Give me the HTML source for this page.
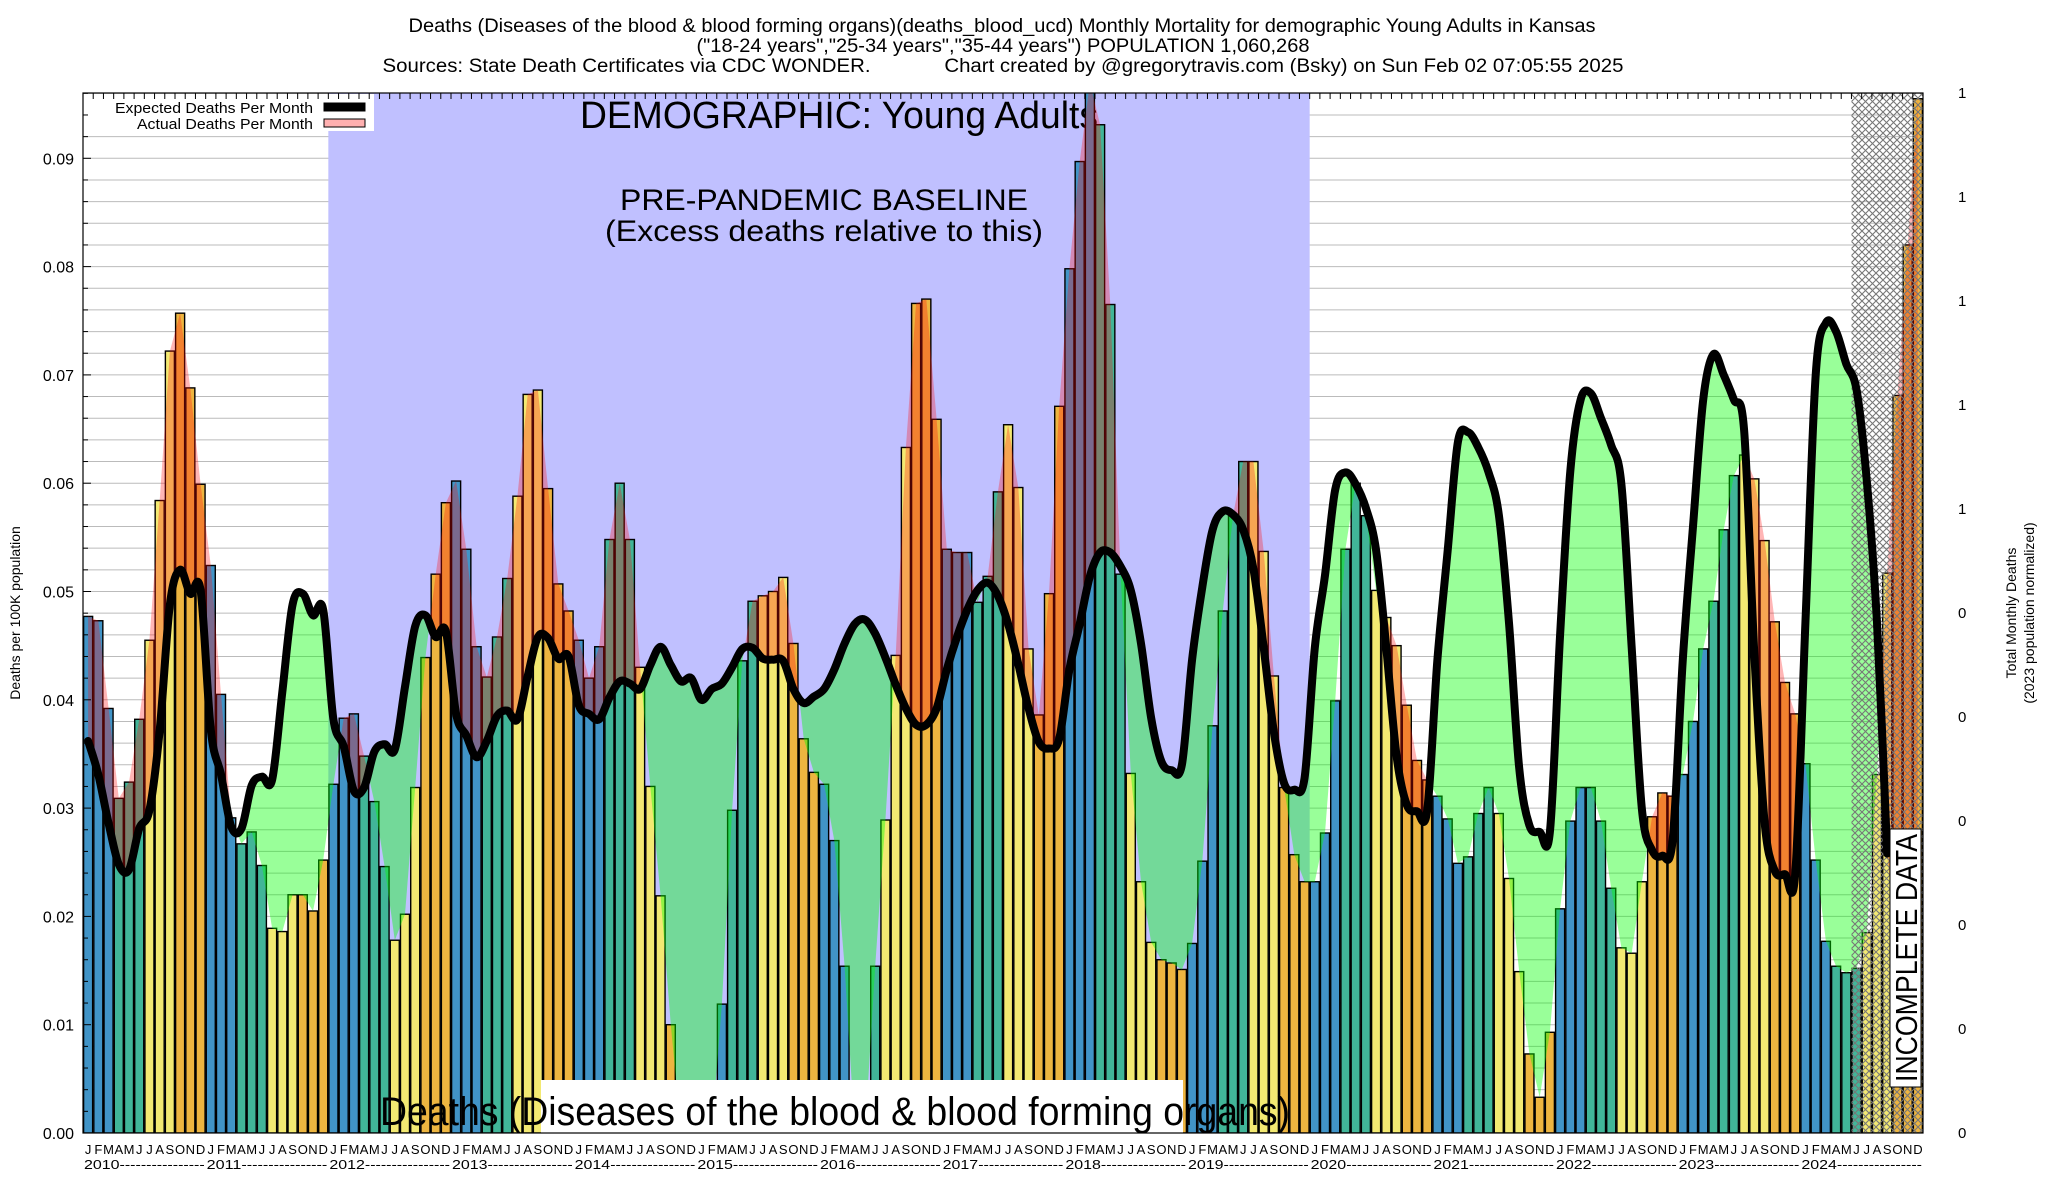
<!DOCTYPE html>
<html><head><meta charset="utf-8"><title>Monthly Mortality chart</title>
<style>
html,body{margin:0;padding:0;background:#fff;}
svg{display:block;font-family:"Liberation Sans",Arial,sans-serif;}
</style></head>
<body>
<svg id="chart" width="2048" height="1200" viewBox="0 0 2048 1200" xmlns="http://www.w3.org/2000/svg">
<defs>
  <pattern id="hatch" width="7" height="7" patternUnits="userSpaceOnUse">
    <path d="M0,0 L7,7 M7,0 L0,7" stroke="#777" stroke-width="1.1" fill="none"/>
  </pattern>
  <clipPath id="plotClip"><rect x="83" y="93" width="1840" height="1040"/></clipPath>
  <clipPath id="aboveExp"><path id="aboveExpPath"/></clipPath>
  <clipPath id="belowExp"><path id="belowExpPath"/></clipPath>
</defs>
<g id="titles" font-size="19" text-anchor="middle">
  <text x="1002" y="32" textLength="1187" lengthAdjust="spacingAndGlyphs">Deaths (Diseases of the blood &amp; blood forming organs)(deaths_blood_ucd) Monthly Mortality for demographic Young Adults in Kansas</text>
  <text x="1003" y="52" textLength="613" lengthAdjust="spacingAndGlyphs">("18-24 years","25-34 years","35-44 years") POPULATION 1,060,268</text>
  <text x="1003" y="72" textLength="1241" lengthAdjust="spacingAndGlyphs" xml:space="preserve">Sources: State Death Certificates via CDC WONDER.             Chart created by @gregorytravis.com (Bsky) on Sun Feb 02 07:05:55 2025</text>
</g>
<g id="plot"></g>
</svg>
<script>
const months = ["J","F","M","A","M","J","J","A","S","O","N","D"];
const years = [2010,2011,2012,2013,2014,2015,2016,2017,2018,2019,2020,2021,2022,2023,2024];
const yTicks = ["0.00","0.01","0.02","0.03","0.04","0.05","0.06","0.07","0.08","0.09"];
const rightTicks = ["0","0","0","0","0","0","1","1","1","1","1"];
const actual = [
.0477,.0473,.0392,.0309,.0324,.0382,.0455,.0584,.0722,.0757,.0688,.0599,
.0524,.0405,.0291,.0267,.0278,.0247,.0189,.0186,.0220,.0220,.0205,.0252,
.0322,.0383,.0387,.0348,.0306,.0246,.0178,.0202,.0319,.0439,.0516,.0582,
.0602,.0539,.0449,.0421,.0458,.0512,.0588,.0682,.0686,.0595,.0507,.0482,
.0455,.0420,.0449,.0548,.0600,.0548,.0430,.0320,.0219,.0100,0,0,
0,0,.0119,.0298,.0436,.0491,.0496,.0500,.0513,.0452,.0364,.0333,
.0322,.0270,.0154,0,0,.0154,.0289,.0441,.0633,.0766,.0770,.0659,
.0539,.0536,.0536,.0490,.0514,.0592,.0654,.0596,.0447,.0386,.0498,.0671,
.0798,.0897,.0970,.0931,.0765,.0516,.0332,.0232,.0176,.0160,.0157,.0151,
.0175,.0251,.0376,.0482,.0570,.0620,.0620,.0537,.0422,.0319,.0257,.0232,
.0232,.0277,.0399,.0539,.0600,.0570,.0501,.0476,.0450,.0395,.0344,.0326,
.0311,.0290,.0249,.0255,.0295,.0319,.0295,.0235,.0149,.0073,.0033,.0093,
.0207,.0288,.0319,.0319,.0288,.0226,.0171,.0166,.0232,.0292,.0314,.0311,
.0331,.0380,.0447,.0491,.0557,.0607,.0626,.0604,.0547,.0472,.0416,.0387,
.0341,.0252,.0177,.0154,.0148,.0152,.0185,.0331,.0517,.0681,.0820,.0955];
const expected = [
.0362,.0331,.0286,.0248,.0243,.0281,.0298,.0372,.0488,.0520,.0498,.0501,
.0372,.0331,.0283,.0281,.0321,.0329,.0326,.0407,.0488,.0498,.0478,.0483,
.0382,.0357,.0316,.0319,.0352,.0359,.0354,.0412,.0468,.0478,.0458,.0463,
.0387,.0367,.0347,.0362,.0385,.0390,.0382,.0422,.0458,.0457,.0438,.0440,
.0395,.0387,.0382,.0402,.0417,.0415,.0410,.0432,.0449,.0432,.0417,.0420,
.0400,.0410,.0415,.0430,.0447,.0448,.0438,.0437,.0436,.0410,.0397,.0403,
.0410,.0428,.0452,.0470,.0474,.0461,.0439,.0414,.0392,.0377,.0377,.0392,
.0428,.0458,.0483,.0501,.0508,.0496,.0470,.0433,.0392,.0361,.0355,.0364,
.0428,.0470,.0514,.0536,.0536,.0523,.0501,.0452,.0383,.0343,.0335,.0340,
.0437,.0504,.0557,.0574,.0571,.0557,.0521,.0448,.0370,.0323,.0317,.0328,
.0448,.0515,.0594,.0610,.0599,.0577,.0538,.0448,.0348,.0303,.0297,.0298,
.0437,.0538,.0638,.0647,.0633,.0610,.0571,.0471,.0337,.0284,.0278,.0278,
.0460,.0611,.0677,.0683,.0660,.0635,.0599,.0448,.0299,.0261,.0256,.0270,
.0437,.0560,.0677,.0719,.0700,.0677,.0649,.0443,.0287,.0242,.0239,.0239,
.0471,.0700,.0748,.0740,.0710,.0686,.0602,.0471,.0258,.0220,.0200,.0200];
const expectedLineEnd = 177;
const incompleteFrom = 173;
const baselineStart = 24, baselineEnd = 120;

const NS = "http://www.w3.org/2000/svg";
const L = 83, R = 1923, T = 93, B = 1133;
const N = actual.length;
const slot = (R - L) / N;
const xl = i => L + i * slot;
const xc = i => L + (i + 0.5) * slot;
const yv = v => B - v * 10830;
const colors = ["#4194c7","#41b598","#f3e972","#edb540"];
const plot = document.getElementById('plot');
function mk(tag, attrs, parent) {
  const e = document.createElementNS(NS, tag);
  for (const k in attrs) e.setAttribute(k, attrs[k]);
  (parent || plot).appendChild(e);
  return e;
}
const f = n => n.toFixed(1);
function smooth(p) { // catmull-rom as cubic segments, without leading M
  let s = f(p[0][0]) + ',' + f(p[0][1]);
  for (let i = 0; i < p.length - 1; i++) {
    const p0 = p[Math.max(0, i-1)], p1 = p[i], p2 = p[i+1], p3 = p[Math.min(p.length-1, i+2)];
    const c1 = [p1[0] + (p2[0]-p0[0])/6, p1[1] + (p2[1]-p0[1])/6];
    const c2 = [p2[0] - (p3[0]-p1[0])/6, p2[1] - (p3[1]-p1[1])/6];
    s += ' C' + f(c1[0]) + ',' + f(c1[1]) + ' ' + f(c2[0]) + ',' + f(c2[1]) + ' ' + f(p2[0]) + ',' + f(p2[1]);
  }
  return s;
}

let e = mk('rect', {x:L, y:T, width:R-L, height:B-T, fill:'#fff'});


const grid = mk('g', {stroke:'#bbb', 'stroke-width':1});


for (let k = 1; k <= 48; k++) {
  const y = yv(k * 0.002);
  const g = mk('line', {x1:L, x2:R, y1:y, y2:y}, grid);
  
  
}
e = mk('rect', {x:xl(baselineStart), y:T, width:xl(baselineEnd)-xl(baselineStart), height:B-T, fill:'#c0c0ff'});



const bt = mk('text', {x:839, y:128, 'font-size':38, 'text-anchor':'middle', textLength:518, lengthAdjust:'spacingAndGlyphs'});
bt.textContent = 'DEMOGRAPHIC: Young Adults';


const p1 = mk('text', {x:824, y:210, 'font-size':30, 'text-anchor':'middle', textLength:408, lengthAdjust:'spacingAndGlyphs'});
p1.textContent = 'PRE-PANDEMIC BASELINE';


const p2 = mk('text', {x:824, y:241, 'font-size':30, 'text-anchor':'middle', textLength:438, lengthAdjust:'spacingAndGlyphs'});
p2.textContent = '(Excess deaths relative to this)';



const bars = mk('g', {'clip-path':'url(#plotClip)'});


for (let i = 0; i < N; i++) {
  if (actual[i] <= 0) continue;
  const b = mk('rect', {x:xl(i)+0.6, y:yv(actual[i]), width:slot-1.2, height:B-yv(actual[i]), fill:colors[Math.floor((i%12)/3)], stroke:'#000', 'stroke-width':1.4}, bars);
  
  
}

const expPts = expected.map((v,i) => [xc(i), yv(v)]);
const actPts = actual.map((v,i) => [xc(i), yv(v)]);
const ptsStr = p => p.map(q => f(q[0])+','+f(q[1])).join(' L');
const expStr = smooth(expPts);
document.getElementById('aboveExpPath').setAttribute('d', 'M' + L + ',' + T + ' L' + L + ',' + f(expPts[0][1]) + ' L' + expStr + ' L' + R + ',' + f(expPts[N-1][1]) + ' L' + R + ',' + T + ' Z');
document.getElementById('belowExpPath').setAttribute('d', 'M' + L + ',' + B + ' L' + L + ',' + f(expPts[0][1]) + ' L' + expStr + ' L' + R + ',' + f(expPts[N-1][1]) + ' L' + R + ',' + B + ' Z');
const between = 'M' + expStr + ' L' + ptsStr(actPts.slice().reverse()) + ' Z';
const gWrap = mk('g', {'clip-path':'url(#belowExp)'});
e = mk('path', {d:between, fill:'rgba(0,255,0,0.4)', 'clip-path':'url(#plotClip)'}, gWrap);


const pWrap = mk('g', {'clip-path':'url(#aboveExp)'});
e = mk('path', {d:between, fill:'rgba(255,10,10,0.3)', 'clip-path':'url(#plotClip)'}, pWrap);



e = mk('rect', {x:xl(incompleteFrom), y:T, width:R-xl(incompleteFrom), height:B-T, fill:'url(#hatch)'});



e = mk('path', {d:'M' + smooth(expPts.slice(0, expectedLineEnd)), fill:'none', stroke:'#000', 'stroke-width':8, 'stroke-linejoin':'round', 'stroke-linecap':'round'});



e = mk('rect', {x:1890, y:829, width:31, height:258, fill:'#fff', stroke:'#000', 'stroke-width':1});


const it = mk('text', {x:0, y:0, 'font-size':31, transform:'translate(1917,1082) rotate(-90)', textLength:248, lengthAdjust:'spacingAndGlyphs'});
it.textContent = 'INCOMPLETE DATA';



e = mk('rect', {x:541, y:1080, width:642, height:53, fill:'#fff'});


const cl = mk('text', {x:380, y:1125, 'font-size':40, textLength:910, lengthAdjust:'spacingAndGlyphs'});
cl.textContent = 'Deaths (Diseases of the blood & blood forming organs)';



e = mk('rect', {x:L+1, y:T+1, width:290, height:37, fill:'#fff'});


const l1 = mk('text', {x:313, y:113, 'font-size':15, 'text-anchor':'end', textLength:198, lengthAdjust:'spacingAndGlyphs'});
l1.textContent = 'Expected Deaths Per Month';


e = mk('rect', {x:324, y:103, width:41, height:8, fill:'#000', stroke:'#000'});


const l2 = mk('text', {x:313, y:129, 'font-size':15, 'text-anchor':'end', textLength:176, lengthAdjust:'spacingAndGlyphs'});
l2.textContent = 'Actual Deaths Per Month';


e = mk('rect', {x:324, y:119, width:41, height:8, fill:'#ffb0b0', stroke:'#000'});



e = mk('rect', {x:L, y:T, width:R-L, height:B-T, fill:'none', stroke:'#000', 'stroke-width':1.2});


const ticks = mk('g', {stroke:'#000', 'stroke-width':1});


for (let i = 0; i <= N; i++) { const t = mk('line', {x1:xl(i), x2:xl(i), y1:T, y2:T+6}, ticks);   }
for (let k = 0; k <= 48; k++) { const y = yv(k*0.002); const t = mk('line', {x1:L, x2:L+(k%5===0?8:5), y1:y, y2:y}, ticks);   }

yTicks.forEach((s, k) => {
  const t = mk('text', {x:74, y:yv(k*0.01)+6, 'font-size':16, 'text-anchor':'end'});
  t.textContent = s;
  
  
});
rightTicks.forEach((s, k) => {
  const t = mk('text', {x:1958, y:B - k*(B-T)/10 + 5, 'font-size':15});
  t.textContent = s;
  
  
});
for (let i = 0; i < N; i++) {
  const t = mk('text', {x:xc(i), y:1154, 'font-size':13, 'text-anchor':'middle'});
  t.textContent = months[i%12];
  
  
}
years.forEach((yr, k) => {
  const t = mk('text', {x:xl(k*12)+1, y:1169, 'font-size':13, textLength:slot*12-2, lengthAdjust:'spacingAndGlyphs'});
  t.textContent = yr + '----------------';
  
  
});
const yt = mk('text', {x:0, y:0, 'font-size':14, 'text-anchor':'middle', transform:'translate(20,613) rotate(-90)'});
yt.textContent = 'Deaths per 100K population';


const r1 = mk('text', {x:0, y:0, 'font-size':14, 'text-anchor':'middle', transform:'translate(2016,613) rotate(-90)'});
r1.textContent = 'Total Monthly Deaths';


const r2 = mk('text', {x:0, y:0, 'font-size':14, 'text-anchor':'middle', transform:'translate(2034,613) rotate(-90)'});
r2.textContent = '(2023 population normalized)';


</script>
</body></html>
